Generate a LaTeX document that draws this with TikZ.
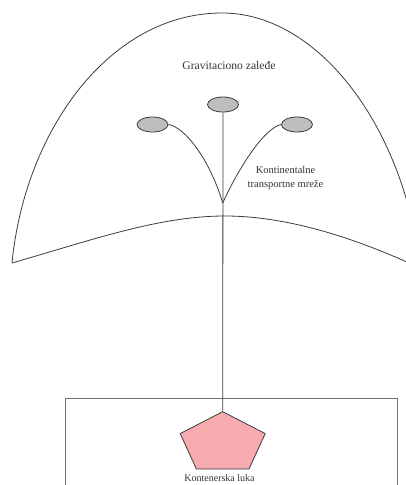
\documentclass[tikz,border=0pt]{standalone}
\usepackage{fontspec}
\setmainfont{Liberation Serif}
\usetikzlibrary{shapes,positioning,calc}
\definecolor{linegray}{RGB}{60,60,60}
\definecolor{boxgray}{RGB}{115,115,115}
\definecolor{citygray}{RGB}{190,190,190}
\definecolor{portpink}{RGB}{246,171,176}

\begin{document}
\begin{tikzpicture}
[x=1pt,y=-1pt,
C/.style={draw=linegray,ellipse,fill=citygray,inner sep=0pt,minimum width=31pt,minimum height=15pt,line width=.8pt},
P/.style={draw=linegray,fill=portpink,regular polygon,regular polygon sides=5,inner sep=0pt,minimum size=89.4pt,yscale=.71,transform shape,line width=.8pt},
lbl/.style={align=center,inner sep=0pt,text=black!80},
myedge/.style={linegray,line width=.8pt}]
%%
\useasboundingbox (0,0) rectangle (406,485);
\clip (0,0) rectangle (406,485);
%%
%%%%%%%%%%%%%%%%%%
% hinterland
%%%%%%%%%%%%%%%%%%
\draw[myedge] (12,263) .. controls (25,130) and (110,13) .. (222,13)
  .. controls (320,13) and (405,130) .. (420,268);
\draw[myedge] (12,263) .. controls (95,239) and (160,216) .. (225,216)
  .. controls (290,216) and (360,240) .. (420,268);
\node[lbl,font=\fontsize{11.6}{13}\selectfont] (zaledje) at (229,66) {Gravitaciono zaleđe};
%%
%%%%%%%%%%%%%%%%%%
% network
%%%%%%%%%%%%%%%%%%
\node[C] (cityL) at (152.5,124.5) {};
\node[C] (cityM) at (223,104.5) {};
\node[C] (cityR) at (297,124.5) {};
\coordinate (hub) at (222.7,203);
%%
\draw[myedge] (cityL.east) .. controls (185,127) and (210,160) .. (hub);
\draw[myedge] (cityR.west) .. controls (265,128) and (240,165) .. (hub);
\node[lbl,font=\fontsize{10.5}{14}\selectfont] (mreze) at (285.5,178) {Kontinentalne\\transportne mreže};
%%
%%%%%%%%%%%%%%%%%%
% port
%%%%%%%%%%%%%%%%%%
\draw[boxgray,line width=1pt] (65,500) -- (65,398) -- (397,398) -- (397,500);
\node[P] (luka) at (222.7,443.4) {};
\draw[myedge] (cityM.south) -- (luka.corner 1);
\node[lbl,font=\fontsize{10}{12}\selectfont] (lukatxt) at (219.5,478) {Kontenerska luka};
%%
\end{tikzpicture}
\end{document}
